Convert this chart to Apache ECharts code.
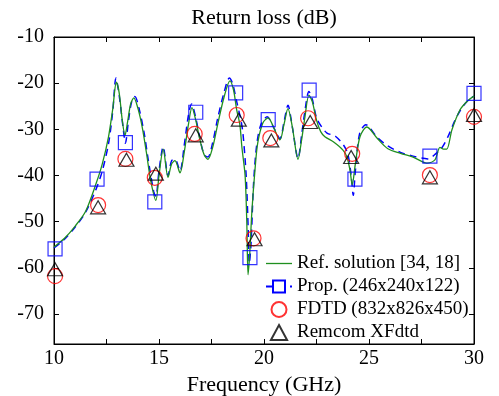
<!DOCTYPE html>
<html>
<head>
<meta charset="utf-8">
<script src="https://cdn.jsdelivr.net/npm/echarts@6/dist/echarts.min.js"></script>
<style>
  html, body { margin: 0; padding: 0; background: #fff; }
  #chart { width: 499px; height: 396px; }
</style>
</head>
<body>
<div id="chart"></div>
<script>
// Ref. solution (green solid)
var refX = [10.0, 10.5, 11.0, 11.5, 12.0, 12.3, 12.6, 12.8, 12.97, 13.1, 13.25, 13.38, 13.5, 13.65, 13.8, 14.0, 14.2, 14.4, 14.6, 14.85,
  15.0, 15.2, 15.43, 15.6, 15.76, 16.0, 16.2, 16.4, 16.57, 16.75, 16.95, 17.15, 17.33, 17.55, 17.8, 18.1, 18.38, 18.55, 18.7, 18.85,
  18.95, 19.1, 19.18, 19.24, 19.32, 19.42, 19.57, 19.7, 19.95, 20.2, 20.45, 20.76, 20.95, 21.14, 21.35, 21.62, 21.8, 21.95, 22.14, 22.3,
  22.5, 22.7, 22.9, 23.3, 23.76, 23.95, 24.1, 24.2, 24.35, 24.57, 24.9, 25.4, 25.9, 26.5, 27.1, 27.76, 28.14, 28.38, 28.55, 28.7,
  28.95, 29.33, 29.7, 30.0]
var refY = [-55.5, -53.6, -51.0, -47.8, -41.8, -37.5, -31.5, -25.5, -19.8, -22, -28, -31.3, -28.5, -24.5, -23.2, -25.5, -29.5, -35, -41, -45.4,
  -40, -34.3, -40.4, -37.5, -36.8, -39.4, -35, -29, -25.3, -28, -32.3, -35.5, -36.5, -34, -28.8, -23, -19.5, -21.5, -25.8, -29,
  -34, -40, -50, -61.5, -57, -48, -38.8, -33, -28.6, -27.5, -29.5, -32.3, -29, -25.5, -29.5, -36.5, -32, -27.3, -22.6, -24,
  -28, -30.5, -31.6, -32.7, -34.5, -36, -39, -42, -37.5, -31.6, -29.5, -32, -34.2, -35.2, -36, -37.3, -36.6, -33.9, -34.3, -34.3,
  -30.1, -25.8, -23.8, -22.8]

// Prop. (blue dashed)
var propX = [10.0, 10.5, 11.0, 11.5, 12.0, 12.3, 12.6, 12.8, 12.95, 13.1, 13.3, 13.4, 13.55, 13.7, 13.85, 14.05, 14.3, 14.5, 14.75, 14.85,
  15.0, 15.2, 15.43, 15.6, 15.76, 16.0, 16.2, 16.4, 16.55, 16.75, 16.95, 17.15, 17.33, 17.55, 17.8, 18.1, 18.35, 18.5, 18.7, 18.9,
  19.0, 19.15, 19.25, 19.3, 19.38, 19.5, 19.65, 19.85, 20.15, 20.45, 20.76, 20.95, 21.14, 21.35, 21.62, 21.8, 21.95, 22.14, 22.3, 22.5,
  22.75, 23.0, 23.4, 23.8, 24.0, 24.15, 24.25, 24.35, 24.55, 24.85, 25.4, 25.9, 26.5, 27.1, 27.8, 28.2, 28.5, 28.8, 29.1, 29.4,
  29.7, 30.0]
var propY = [-55.7, -53.8, -51.2, -48, -43, -39, -33, -26, -18.9, -22.5, -30, -33, -28, -24, -22.9, -25.5, -31, -37, -43.5, -44.5,
  -39, -33.8, -40, -36.8, -36.5, -39, -33.5, -27, -24.5, -27.5, -32, -35.5, -36, -33, -27.5, -22, -18.9, -20, -24, -28,
  -31, -40, -52, -59, -55, -42, -33.5, -29, -27.3, -29.5, -32, -28.5, -24.8, -29.5, -36.3, -31, -26, -21.8, -23.5, -27.5,
  -29.5, -30.8, -31.5, -33.5, -35.5, -40, -44.3, -39, -31, -29, -31.8, -33.6, -35, -35.8, -36.4, -35.2, -33.8, -31.2, -28, -25.5,
  -23.8, -22.8]

// markers
var propPtX = [10.05, 12.05, 13.4, 14.8, 16.75, 18.65, 19.33, 20.2, 22.15, 24.33, 27.9, 30]
var propPtY = [-55.9, -40.8, -32.9, -45.7, -26.3, -22.1, -57.8, -27.9, -21.5, -40.8, -35.8, -22.2]
var fdtdX = [10.05, 12.1, 13.4, 14.8, 16.7, 18.7, 19.5, 20.3, 22.1, 24.2, 27.9, 30]
var fdtdY = [-61.8, -46.4, -36.4, -40.5, -31.0, -26.9, -53.6, -31.9, -27.6, -35.3, -39.9, -27.3]
var remX = [10.05, 12.1, 13.45, 14.85, 16.75, 18.8, 19.55, 20.35, 22.2, 24.15, 27.9, 30]
var remY = [-60.3, -46.9, -36.6, -39.6, -31.3, -27.9, -53.8, -32.4, -28.4, -36.0, -40.4, -26.9]

var yTicks = [-70, -60, -50, -40, -30, -20, -10]

function zip(xs, ys) {
  var out = []
  for (var i = 0; i < xs.length; i++) out.push([xs[i], ys[i]])
  return out
}

var font = 'Liberation Serif'
var triPath = 'path://M7,0 L14,13 L0,13 Z'
var chart = echarts.init(document.getElementById('chart'))
var option = {
  animation: false,
  backgroundColor: '#fff',
  grid: {
    left: 54, right: 25, top: 37, bottom: 52, outerBoundsMode: 'none',
    show: true, borderColor: '#000', borderWidth: 1
  },
  legend: {
    orient: 'vertical',
    left: 260,
    top: 249,
    itemWidth: 26,
    itemHeight: 15,
    itemGap: 4,
    textStyle: { fontFamily: font, fontSize: 19, color: '#000' },
    data: [
      { name: 'Ref. solution [34, 18]', icon: 'path://M0,0 L26,0 L26,1.3 L0,1.3 Z' },
      'Prop. (246x240x122)',
      'FDTD (832x826x450)',
      { name: 'Remcom XFdtd', icon: triPath }
    ]
  },
  xAxis: [{
    type: 'value', min: 10, max: 30, interval: 2.5, position: 'bottom',
    name: 'Frequency (GHz)', nameLocation: 'middle', nameGap: 26,
    nameTextStyle: { fontFamily: font, fontSize: 22, color: '#000' },
    axisLine: { lineStyle: { color: '#000' } },
    axisTick: { inside: true, length: 5, lineStyle: { color: '#000' } },
    axisLabel: { fontFamily: font, fontSize: 20, color: '#000', margin: 5,
      formatter: function (v) { return v % 5 === 0 ? v : '' } },
    splitLine: { show: false }
  }, {
    type: 'value', min: 10, max: 30, interval: 2.5, position: 'top',
    name: 'Return loss (dB)', nameLocation: 'middle', nameGap: 8,
    nameTextStyle: { fontFamily: font, fontSize: 22, color: '#000' },
    axisLine: { lineStyle: { color: '#000' } },
    axisTick: { inside: true, length: 5, lineStyle: { color: '#000' } },
    axisLabel: { show: false },
    splitLine: { show: false }
  }],
  yAxis: [{
    type: 'value', min: -76.5, max: -10, position: 'left',
    axisLine: { show: true, lineStyle: { color: '#000' } },
    axisTick: { show: true, inside: true, length: 5, customValues: yTicks, lineStyle: { color: '#000' } },
    axisLabel: { fontFamily: font, fontSize: 20, color: '#000', margin: 10, customValues: yTicks },
    splitLine: { show: false }
  }, {
    type: 'value', min: -76.5, max: -10, position: 'right',
    axisLine: { show: true, lineStyle: { color: '#000' } },
    axisTick: { show: true, inside: true, length: 5, customValues: yTicks, lineStyle: { color: '#000' } },
    axisLabel: { show: false },
    splitLine: { show: false }
  }],
  series: [
    {
      name: 'Ref. solution [34, 18]', type: 'line', xAxisIndex: 0, yAxisIndex: 0,
      smooth: 0.3, symbol: 'none', z: 3,
      lineStyle: { color: '#1f8f1f', width: 1.3 },
      itemStyle: { color: '#1f8f1f' },
      data: zip(refX, refY)
    },
    {
      name: 'Prop. (246x240x122)', type: 'line', xAxisIndex: 0, yAxisIndex: 0,
      smooth: 0.3, symbol: 'emptyRect', showSymbol: false, z: 2,
      lineStyle: { color: '#0000ff', width: 1.5, type: [7, 5] },
      itemStyle: { color: '#0000ff' },
      data: zip(propX, propY)
    },
    {
      name: 'Prop. (246x240x122)', type: 'scatter', symbol: 'rect', symbolSize: 14, z: 5, clip: false,
      itemStyle: { color: 'transparent', borderColor: '#0000ff', borderWidth: 1.2 },
      data: zip(propPtX, propPtY)
    },
    {
      name: 'FDTD (832x826x450)', type: 'scatter', symbol: 'circle', symbolSize: 15, z: 5, clip: false,
      itemStyle: { color: 'transparent', borderColor: '#ff0000', borderWidth: 1.2 },
      data: zip(fdtdX, fdtdY)
    },
    {
      name: 'Remcom XFdtd', type: 'scatter', symbol: 'triangle', symbolSize: [15, 13], z: 6, clip: false,
      itemStyle: { color: 'transparent', borderColor: '#000', borderWidth: 1.2 },
      data: zip(remX, remY)
    }
  ]
}
chart.setOption(option)
</script>
</body>
</html>
